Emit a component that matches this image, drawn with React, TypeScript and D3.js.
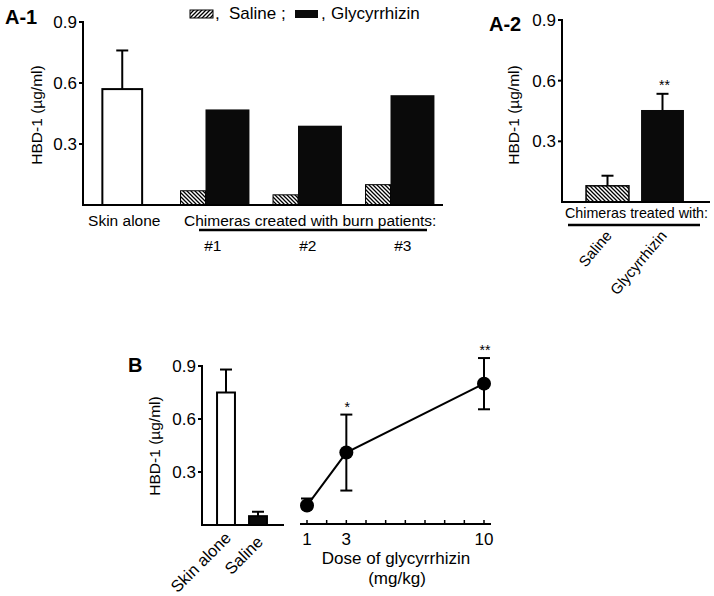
import React from "react";
import * as d3 from "d3";

// ---- Data ----
const yTicks = [0.3, 0.6, 0.9];

// Panel A-1
const a1Groups = ["Skin alone", "#1", "#2", "#3"];
const a1SkinValue = 0.57;
const a1SkinErr = 0.19;
const a1Patients = ["#1", "#2", "#3"];
const a1Saline = [0.07, 0.05, 0.1];
const a1Glycyrrhizin = [0.47, 0.39, 0.54];

// Panel A-2
const a2Groups = ["Saline", "Glycyrrhizin"];
const a2Values = [0.08, 0.455];
const a2Errors = [0.05, 0.08];
const a2Marks = ["", "**"];

// Panel B bars
const bGroups = ["Skin alone", "Saline"];
const bValues = [0.75, 0.05];
const bErrors = [0.13, 0.025];

// Panel B dose-response
const doses = [1, 3, 10];
const doseValues = [0.11, 0.41, 0.8];
const doseErrors = [0.04, 0.215, 0.145];
const doseMarks = ["", "*", "**"];
const doseTickLabels = [1, 3, 10];
const doseMinorTicks = [1, 2, 3, 4, 5, 6, 7, 8, 9, 10];

const FONT = "'Liberation Sans', Arial, Helvetica, sans-serif";

export default function App() {
  // scales
  const yA1 = d3.scaleLinear().domain([0, 0.9]).range([205, 22]);
  const xA1 = d3.scaleBand<string>().domain(a1Groups).range([76, 446]).padding(0);
  const yA2 = d3.scaleLinear().domain([0, 0.9]).range([202, 20]);
  const xA2 = d3.scaleBand<string>().domain(a2Groups).range([580, 690]).padding(0);
  const yB = d3.scaleLinear().domain([0, 0.9]).range([525, 366]);
  const xB = d3.scaleBand<string>().domain(bGroups).range([210, 274]).padding(0);
  const xDose = d3.scaleLinear().domain([1, 10]).range([307, 484]);

  const lw = 2;
  const capW = 12;

  const yAxis = (
    x: number,
    y: d3.ScaleLinear<number, number>,
    key: string
  ) => (
    <g key={key}>
      <line x1={x} x2={x} y1={y(0)} y2={y(0.9) - 1} stroke="#000" strokeWidth={lw} />
      {yTicks.map((t) => (
        <g key={t}>
          <line x1={x - 4} x2={x} y1={y(t)} y2={y(t)} stroke="#000" strokeWidth={lw} />
          <text
            x={x - 6}
            y={y(t)}
            dy="0.36em"
            textAnchor="end"
            fontSize={17}
            fontFamily={FONT}
          >
            {t.toFixed(1)}
          </text>
        </g>
      ))}
    </g>
  );

  const yTitle = (x: number, y: number, key: string) => (
    <text
      key={key}
      transform={`translate(${x},${y}) rotate(-90)`}
      textAnchor="middle"
      fontSize={15.5}
      fontFamily={FONT}
    >
      HBD-1 (µg/ml)
    </text>
  );

  const errBar = (cx: number, yTop: number, yBase: number, key: string, yBottom?: number) => (
    <g key={key}>
      <line x1={cx} x2={cx} y1={yTop} y2={yBottom !== undefined ? yBottom : yBase} stroke="#000" strokeWidth={lw} />
      <line x1={cx - capW / 2} x2={cx + capW / 2} y1={yTop} y2={yTop} stroke="#000" strokeWidth={lw} />
      {yBottom !== undefined && (
        <line x1={cx - capW / 2} x2={cx + capW / 2} y1={yBottom} y2={yBottom} stroke="#000" strokeWidth={lw} />
      )}
    </g>
  );

  // A-1 geometry
  const bw1 = xA1.bandwidth();
  const skinC = xA1("Skin alone")! + bw1 / 2;
  const skinW = bw1 * 0.43;
  const salW = bw1 * 0.27;
  const glyW = bw1 * 0.475;
  const grpOff = bw1 * 0.1;

  // A-2 geometry
  const bw2 = xA2.bandwidth();
  const a2W = bw2 * 0.78;

  // B geometry
  const bwB = xB.bandwidth();
  const bBarW = bwB * 0.56;

  const linePath = d3
    .line<number>()
    .x((_, i) => xDose(doses[i]))
    .y((v) => yB(v))(doseValues);

  return (
    <svg width={714} height={596} style={{ display: "block", position: "absolute", left: 0, top: 0, background: "#fff" }}>
      <defs>
        <pattern id="hatchBack" patternUnits="userSpaceOnUse" width={4} height={4}>
          <rect width={4} height={4} fill="#fff" />
          <path d="M-1,-1 L5,5 M-1,3 L1,5 M3,-1 L5,1" stroke="#000" strokeWidth={1.3} />
        </pattern>
        <pattern id="hatchFwd" patternUnits="userSpaceOnUse" width={4} height={4}>
          <rect width={4} height={4} fill="#fff" />
          <path d="M-1,5 L5,-1 M-1,1 L1,-1 M3,5 L5,3" stroke="#000" strokeWidth={1.3} />
        </pattern>
      </defs>

      {/* ---------- Panel A-1 ---------- */}
      <text x={5} y={24} fontSize={20} fontWeight="bold" fontFamily={FONT}>A-1</text>
      {yTitle(41.5, 115, "t1")}
      {yAxis(83, yA1, "ya1")}
      {/* Skin alone bar */}
      {errBar(skinC, yA1(a1SkinValue + a1SkinErr), yA1(a1SkinValue), "e1")}
      <rect
        x={skinC - skinW / 2}
        y={yA1(a1SkinValue)}
        width={skinW}
        height={yA1(0) - yA1(a1SkinValue)}
        fill="#fff"
        stroke="#000"
        strokeWidth={lw}
      />
      {a1Patients.map((p, i) => {
        const c = xA1(p)! + bw1 / 2;
        const split = c - grpOff;
        return (
          <g key={p}>
            <rect
              x={split - salW}
              y={yA1(a1Saline[i])}
              width={salW}
              height={yA1(0) - yA1(a1Saline[i])}
              fill="url(#hatchBack)"
              stroke="#000"
              strokeWidth={1}
            />
            <rect
              x={split}
              y={yA1(a1Glycyrrhizin[i])}
              width={glyW}
              height={yA1(0) - yA1(a1Glycyrrhizin[i])}
              fill="#0a0a0a"
            />
            <text x={c - 2 + i * 2.5} y={251} textAnchor="middle" fontSize={15.5} fontFamily={FONT}>{p}</text>
          </g>
        );
      })}
      <line x1={82} x2={443} y1={yA1(0)} y2={yA1(0)} stroke="#000" strokeWidth={lw} />
      <text x={skinC + 2} y={226} textAnchor="middle" fontSize={15.5} fontFamily={FONT}>Skin alone</text>
      <text x={184} y={226} fontSize={15.5} fontFamily={FONT}>Chimeras created with burn patients:</text>
      <line x1={199} x2={427} y1={230} y2={230} stroke="#000" strokeWidth={2.5} />

      {/* Legend */}
      <rect x={190} y={10} width={23} height={8} fill="url(#hatchFwd)" stroke="#000" strokeWidth={1} />
      <text x={215} y={19} fontSize={17} fontFamily={FONT}>,</text>
      <text x={229} y={19} fontSize={17} fontFamily={FONT}>Saline ;</text>
      <rect x={295} y={10} width={23} height={8} fill="#0a0a0a" />
      <text x={321} y={19} fontSize={17} fontFamily={FONT}>,</text>
      <text x={331} y={19} fontSize={17} fontFamily={FONT}>Glycyrrhizin</text>

      {/* ---------- Panel A-2 ---------- */}
      <text x={489} y={31} fontSize={20} fontWeight="bold" fontFamily={FONT}>A-2</text>
      {yTitle(519, 115, "t2")}
      {yAxis(562, yA2, "ya2")}
      {a2Groups.map((g, i) => {
        const c = xA2(g)! + bw2 / 2;
        return (
          <g key={g}>
            {errBar(c, yA2(a2Values[i] + a2Errors[i]), yA2(a2Values[i]), "e2" + i)}
            <rect
              x={c - a2W / 2}
              y={yA2(a2Values[i])}
              width={a2W}
              height={yA2(0) - yA2(a2Values[i])}
              fill={i === 0 ? "url(#hatchBack)" : "#0a0a0a"}
              stroke="#000"
              strokeWidth={i === 0 ? 1.5 : 0}
            />
            {a2Marks[i] && (
              <text x={c + 2} y={yA2(a2Values[i] + a2Errors[i]) - 4} textAnchor="middle" fontSize={14} fontFamily={FONT}>
                {a2Marks[i]}
              </text>
            )}
            <text
              transform={`translate(${c + 5},${236}) rotate(-50)`}
              textAnchor="end"
              fontSize={15}
              fontFamily={FONT}
            >
              {g}
            </text>
          </g>
        );
      })}
      <line x1={561} x2={710} y1={yA2(0)} y2={yA2(0)} stroke="#000" strokeWidth={lw} />
      <text x={565} y={218} fontSize={14.3} fontFamily={FONT}>Chimeras treated with:</text>
      <line x1={568} x2={700} y1={225} y2={225} stroke="#000" strokeWidth={2.5} />

      {/* ---------- Panel B ---------- */}
      <text x={128} y={372} fontSize={20} fontWeight="bold" fontFamily={FONT}>B</text>
      {yTitle(160, 446, "tb")}
      {yAxis(202, yB, "yb")}
      {bGroups.map((g, i) => {
        const c = xB(g)! + bwB / 2;
        return (
          <g key={g}>
            {errBar(c, yB(bValues[i] + bErrors[i]), yB(bValues[i]), "eb" + i)}
            <rect
              x={c - bBarW / 2}
              y={yB(bValues[i])}
              width={bBarW}
              height={yB(0) - yB(bValues[i])}
              fill={i === 0 ? "#fff" : "#0a0a0a"}
              stroke="#000"
              strokeWidth={lw}
            />
            <text
              transform={`translate(${c + 6},${539 + i * 4}) rotate(-45)`}
              textAnchor="end"
              fontSize={16.5}
              fontFamily={FONT}
            >
              {g}
            </text>
          </g>
        );
      })}
      <line x1={201} x2={284} y1={yB(0)} y2={yB(0)} stroke="#000" strokeWidth={lw} />

      {/* Dose axis */}
      <line x1={300} x2={491} y1={yB(0) - 1} y2={yB(0) - 1} stroke="#000" strokeWidth={lw} />
      {doseMinorTicks.map((t) => (
        <line key={t} x1={xDose(t)} x2={xDose(t)} y1={yB(0) - 1} y2={yB(0) - 5} stroke="#000" strokeWidth={1.5} />
      ))}
      {doseTickLabels.map((t) => (
        <text key={t} x={xDose(t)} y={545} textAnchor="middle" fontSize={17} fontFamily={FONT}>{t}</text>
      ))}
      <text x={396} y={564} textAnchor="middle" fontSize={17} fontFamily={FONT}>Dose of glycyrrhizin</text>
      <text x={397} y={584} textAnchor="middle" fontSize={17} fontFamily={FONT}>(mg/kg)</text>

      {/* Dose-response */}
      {doses.map((d, i) => {
        const cx = xDose(d);
        return errBar(cx, yB(doseValues[i] + doseErrors[i]), yB(doseValues[i]), "ed" + i, i === 0 ? undefined : yB(doseValues[i] - doseErrors[i]));
      })}
      <path d={linePath || ""} fill="none" stroke="#000" strokeWidth={lw} />
      {doses.map((d, i) => (
        <g key={d}>
          <circle cx={xDose(d)} cy={yB(doseValues[i])} r={7} fill="#000" />
          {doseMarks[i] && (
            <text
              x={xDose(d) + 1}
              y={yB(doseValues[i] + doseErrors[i]) - 3}
              textAnchor="middle"
              fontSize={14}
              fontFamily={FONT}
            >
              {doseMarks[i]}
            </text>
          )}
        </g>
      ))}
    </svg>
  );
}
